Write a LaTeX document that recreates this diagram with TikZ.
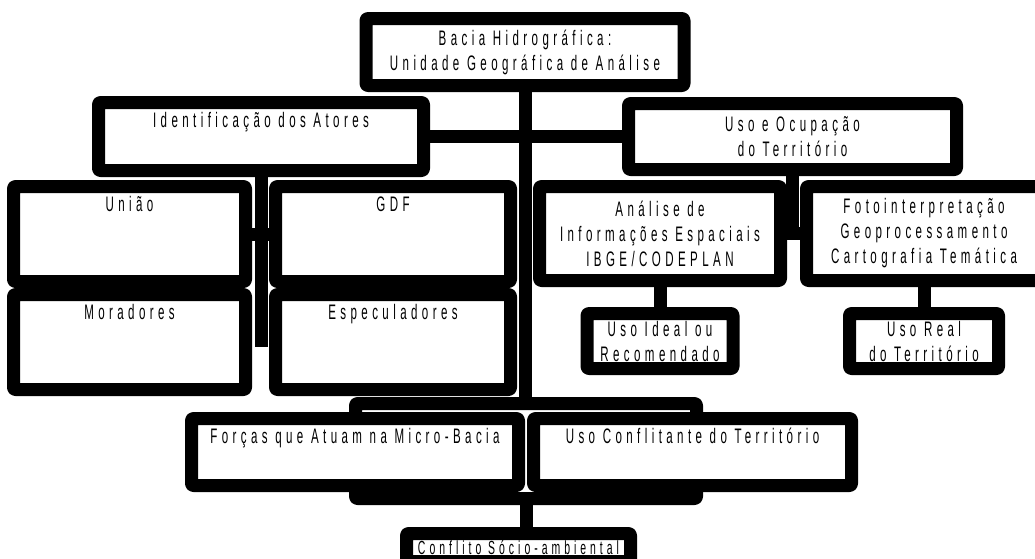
\documentclass[tikz,border=0pt]{standalone}
\usepackage{fontspec}
\setmainfont{Liberation Sans}[FakeStretch=0.55, LetterSpace=21]
\begin{document}
\begin{tikzpicture}[x=1pt, y=-1pt, line join=round,
  caixa/.style={draw, fill=white, line width=13pt, rounded corners=2pt, inner sep=0pt,
    align=center, font=\fontsize{21}{25}\selectfont},
  topo/.style={text height=25pt, text depth=#1},
  ligacao/.style={line width=13pt}]
\clip (0,0) rectangle (1035,558);
% moldura atras das duas caixas de baixo
\node[caixa, fill=none, minimum width=341pt, minimum height=95pt] (grupo) at (526,451) {};
% nivel 1
\node[caixa, minimum width=318pt, minimum height=67pt] (bacia) at (525,52)
  {Bacia Hidrográfica:\\Unidade Geográfica de Análise};
% nivel 2
\node[caixa, topo=43pt, minimum width=325pt, minimum height=68pt] (ident) at (261,136.5)
  {Identificação dos Atores};
\node[caixa, minimum width=328pt, minimum height=66pt] (uso) at (792.5,136.5)
  {Uso e Ocupação\\do Território};
% atores
\node[caixa, topo=70pt, minimum width=232pt, minimum height=95pt] (uniao) at (129.5,234) {União};
\node[caixa, topo=70pt, minimum width=235pt, minimum height=95pt] (gdf) at (393,234) {GDF};
\node[caixa, topo=70pt, minimum width=232pt, minimum height=95pt] (moradores) at (129.5,342) {Moradores};
\node[caixa, topo=70pt, minimum width=235pt, minimum height=95pt] (especuladores) at (393,342) {Especuladores};
% uso do territorio
\node[caixa, minimum width=241pt, minimum height=94pt] (analise) at (660,233.5)
  {Análise de\\Informações Espaciais\\IBGE/CODEPLAN};
\node[caixa, minimum width=235pt, minimum height=94pt] (foto) at (924,233.5)
  {Fotointerpretação\\Geoprocessamento\\Cartografia Temática};
\node[caixa, minimum width=146pt, minimum height=55pt] (ideal) at (660,341)
  {Uso Ideal ou\\Recomendado};
\node[caixa, minimum width=149pt, minimum height=55pt] (real) at (924,341)
  {Uso Real\\do Território};
% nivel de baixo
\node[caixa, topo=42pt, minimum width=327pt, minimum height=67pt] (forcas) at (355,452)
  {Forças que Atuam na Micro-Bacia};
\node[caixa, topo=42pt, minimum width=318pt, minimum height=67pt] (conflitante) at (692.5,452)
  {Uso Conflitante do Território};
\node[caixa, font=\fontsize{19}{25}\selectfont, text height=14pt, text depth=0pt,
  minimum width=224pt, minimum height=28pt] (conflito) at (518.5,547.5)
  {Conflito Sócio-ambiental};
\coordinate (atores) at (261,347);
% ligacoes
\draw[ligacao] (bacia.south) -- (bacia.south |- grupo.north);
\draw[ligacao] (ident.east) -- (uso.west);
\draw[ligacao] (ident.south) -- (atores);
\draw[ligacao] (uniao.east) -- (gdf.west);
\draw[ligacao] (uso.south) -- (uso.south |- analise.east);
\draw[ligacao] (analise.east) -- (foto.west);
\draw[ligacao] (analise.south) -- (ideal.north);
\draw[ligacao] (foto.south) -- (real.north);
\draw[ligacao] (grupo.south) -- (grupo.south |- conflito.north);
\end{tikzpicture}
\end{document}
